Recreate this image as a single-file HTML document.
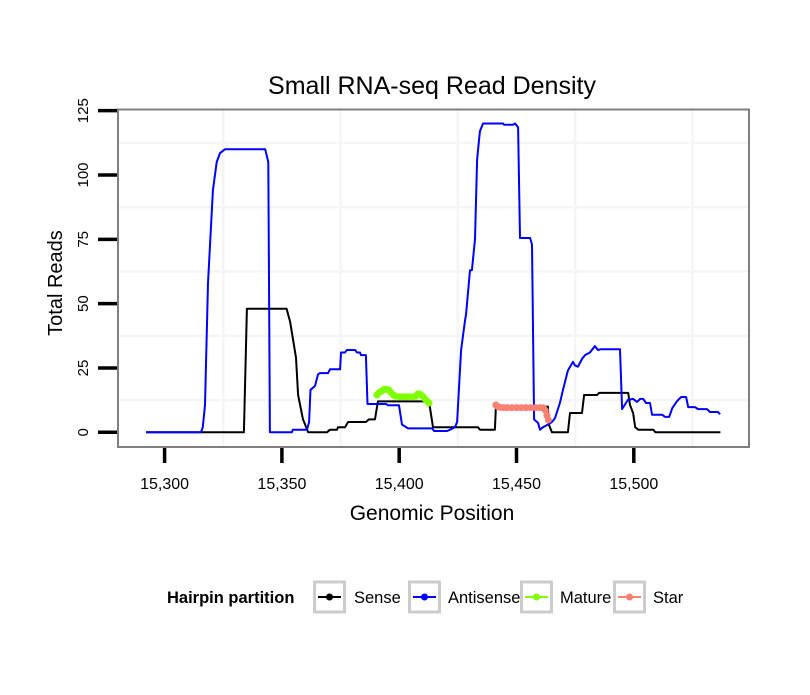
<!DOCTYPE html>
<html><head><meta charset="utf-8"><style>
body{margin:0;background:#fff;}
svg text{font-family:"Liberation Sans",sans-serif;}
</style></head><body>
<svg id="chart" width="810" height="690" viewBox="0 0 810 690" xmlns="http://www.w3.org/2000/svg">
<rect width="810" height="690" fill="#fff"/>
<text x="432" y="94" text-anchor="middle" font-size="25">Small RNA-seq Read Density</text>
<g id="grid"></g>
<g id="series"></g>
<rect x="118" y="109.5" width="631" height="337.5" fill="none" stroke="#7f7f7f" stroke-width="2"/>
<g id="axes"></g>
<text x="432" y="520" text-anchor="middle" font-size="21">Genomic Position</text>
<text transform="translate(62,283) rotate(-90)" text-anchor="middle" font-size="20">Total Reads</text>
<g>
<text x="167" y="603" font-size="16.5" font-weight="bold">Hairpin partition</text>
<g><rect x="314.5" y="582" width="30" height="30" fill="#fff" stroke="#cccccc" stroke-width="3"/><line x1="318" y1="597" x2="341" y2="597" stroke="#000" stroke-width="2"/><circle cx="329.5" cy="597" r="3.5" fill="#000"/><text x="354" y="603" font-size="16.5">Sense</text></g>
<g><rect x="409.5" y="582" width="30" height="30" fill="#fff" stroke="#cccccc" stroke-width="3"/><line x1="413" y1="597" x2="436" y2="597" stroke="#0000ff" stroke-width="2"/><circle cx="424.5" cy="597" r="3.5" fill="#0000ff"/><text x="448" y="603" font-size="16.5">Antisense</text></g>
<g><rect x="521.5" y="582" width="30" height="30" fill="#fff" stroke="#cccccc" stroke-width="3"/><line x1="525" y1="597" x2="548" y2="597" stroke="#7fff00" stroke-width="2"/><circle cx="536.5" cy="597" r="3.5" fill="#7fff00"/><text x="560" y="603" font-size="16.5">Mature</text></g>
<g><rect x="614.5" y="582" width="30" height="30" fill="#fff" stroke="#cccccc" stroke-width="3"/><line x1="618" y1="597" x2="641" y2="597" stroke="#fa8072" stroke-width="2"/><circle cx="629.5" cy="597" r="3.5" fill="#fa8072"/><text x="653" y="603" font-size="16.5">Star</text></g>
</g>
</svg>
<script>
const xTicks=[15300,15350,15400,15450,15500];
const xTickLabels=["15,300","15,350","15,400","15,450","15,500"];
const yTicks=[0,25,50,75,100,125];
const yTickLabels=["0","25","50","75","100","125"];
const senseX=[15292.1,15333.8,15335.1,15352,15353.5,15356,15356.9,15359,15361.2,15369.2,15370.5,15373.5,15373.9,15376.9,15378.2,15385.8,15387.1,15389.7,15390.9,15412.7,15414.4,15433.6,15434.4,15440.8,15441.2,15463.4,15463.8,15465.1,15471.9,15472.8,15477.9,15478.8,15484.3,15485.2,15497.6,15498.4,15499.7,15500.6,15501.9,15508.3,15509.2,15536.9];
const senseY=[0,0,48,48,43,29,14.5,5,0,0,1,1,2,2,4,4,5,5,12,12,2,2,1,1,10,10,3,0,0,7.5,7.5,14.5,14.5,15.3,15.3,10.6,7.5,2,1,1,0,0];
const antiX=[15292.1,15315.5,15316.3,15317.2,15318.5,15320.6,15322.2,15323.6,15325.7,15342.9,15344.2,15344.9,15354.2,15354.7,15360.7,15361.6,15362.2,15364.1,15365.4,15366.2,15369.7,15370.5,15374.8,15375.2,15376.9,15377.7,15381.2,15382,15383.3,15383.7,15385.8,15386.5,15394.4,15395.2,15399.9,15401.2,15403.8,15414,15414.9,15420.4,15421.7,15423.8,15424.7,15426.4,15428.1,15428.5,15430.2,15431,15432.3,15433.2,15434.4,15435.7,15444.3,15444.7,15448.5,15449.4,15450.7,15451.5,15455.8,15456.6,15457.5,15459.2,15460,15461.3,15463.4,15465.1,15466.4,15468.5,15469.8,15471.9,15474.1,15474.9,15476.2,15477.9,15479.2,15481.3,15483.4,15484.7,15486,15494.1,15495,15497.5,15499.7,15501.4,15502.7,15504,15505.2,15506.9,15507.8,15512.1,15513.4,15515.1,15516.4,15518.5,15520.2,15522.3,15523.2,15526.1,15527.4,15531.2,15532.5,15535.9,15536.8];
const antiY=[0,0,2,10.6,58,94,105,108.5,110,110,105,0,0,1,1,4,16.5,18,22.5,23,23,24.5,24.5,31,31,32,32,31,31,30,30,11,11,10.5,10.5,3,1.5,1.5,0.5,0.5,1,2,4,32,43.7,46,63,63,75,106,117,120,120,119.5,119.5,120,118.5,75.5,75.5,73,5,3.6,1,2,3,4,5.5,11.4,16.5,24,27.4,26,25.5,28.5,30,31,33.5,32,32.3,32.3,9,12.6,13,11.8,13,13,11.4,11.4,6.8,6.8,6,6,9.4,12.2,13.7,13.7,9.8,9.8,9,9,7.9,7.9,7];
const matureX=[15390.5,15391.5,15392.5,15393.5,15394.5,15395.5,15396.5,15397.5,15398.5,15400,15401.5,15403,15404.5,15406,15407,15408,15409,15410,15411,15412,15412.7];
const matureY=[14.5,15.5,16,16.7,16.7,16.5,15.5,14.5,14,13.8,13.8,13.8,13.8,13.8,14,15,14.8,14,13,12,11.4];
const starX=[15441.2,15442,15443,15444.5,15446,15448,15450,15452,15454,15456,15458,15460,15461.5,15462.3,15463,15463.6];
const starY=[10.6,10,9.7,9.6,9.6,9.6,9.6,9.6,9.6,9.6,9.6,9.6,9.5,8.5,6.5,4.8];

const NS="http://www.w3.org/2000/svg";
function sx(v){return 164.6+(v-15300)*2.346;}
function sy(v){return 432.3-v*2.573;}
function mk(tag,attrs,parent){const e=document.createElementNS(NS,tag);for(const k in attrs)e.setAttribute(k,attrs[k]);parent.appendChild(e);return e;}
const grid=document.getElementById('grid'),axes=document.getElementById('axes'),series=document.getElementById('series');
[15325,15375,15425,15475,15525].forEach(v=>{const l=mk('line',{x1:sx(v),x2:sx(v),y1:110,y2:446,stroke:'#f5f5f5','stroke-width':2.5},grid);

});
[12.5,37.5,62.5,87.5,112.5].forEach(v=>{const l=mk('line',{x1:119,x2:748,y1:sy(v),y2:sy(v),stroke:'#f5f5f5','stroke-width':2.5},grid);

});
xTicks.forEach((v,i)=>{const t=mk('line',{x1:sx(v),x2:sx(v),y1:448,y2:463,stroke:'#000','stroke-width':3.5},axes);


const tx=mk('text',{x:sx(v),y:489,'text-anchor':'middle','font-size':16},axes);tx.textContent=xTickLabels[i];

});
yTicks.forEach((v,i)=>{const t=mk('line',{x1:98,x2:117,y1:sy(v),y2:sy(v),stroke:'#000','stroke-width':3.5},axes);


const tx=mk('text',{transform:`translate(88,${sy(v)}) rotate(-90)`,'text-anchor':'middle','font-size':15},axes);tx.textContent=yTickLabels[i];

});
function path(xs,ys){return xs.map((x,i)=>(i?'L':'M')+sx(x).toFixed(1)+','+sy(ys[i]).toFixed(1)).join('');}
const p1=mk('path',{d:path(senseX,senseY),fill:'none',stroke:'#000','stroke-width':2,'stroke-linejoin':'round'},series);


const p2=mk('path',{d:path(antiX,antiY),fill:'none',stroke:'#0000ff','stroke-width':2,'stroke-linejoin':'round'},series);


const p3=mk('path',{d:path(matureX,matureY),fill:'none',stroke:'#7fff00','stroke-width':5,'stroke-linejoin':'round','stroke-linecap':'round'},series);


matureX.forEach((x,i)=>{const c=mk('circle',{cx:sx(x),cy:sy(matureY[i]),r:3.5,fill:'#7fff00'},series);

});
const p4=mk('path',{d:path(starX,starY),fill:'none',stroke:'#fa8072','stroke-width':5,'stroke-linejoin':'round','stroke-linecap':'round'},series);


starX.forEach((x,i)=>{const c=mk('circle',{cx:sx(x),cy:sy(starY[i]),r:3.5,fill:'#fa8072'},series);

});
</script>
</body></html>
